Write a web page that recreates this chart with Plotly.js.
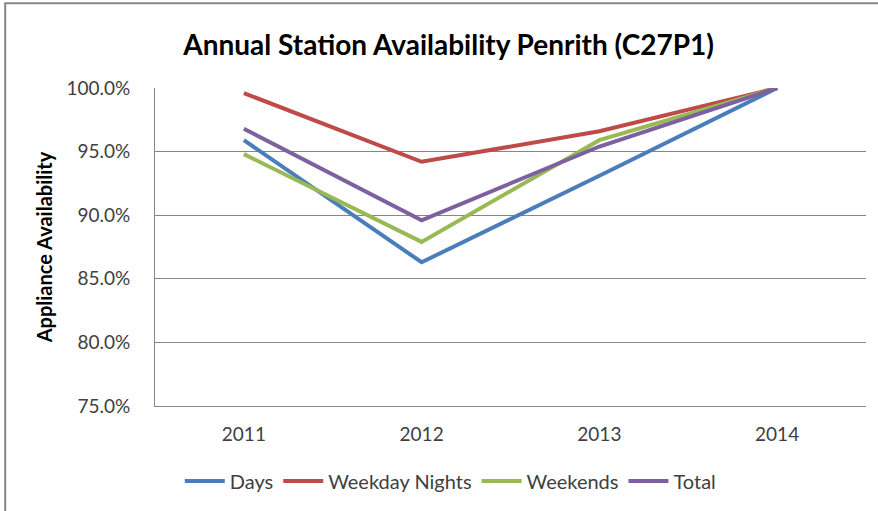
<!DOCTYPE html>
<html>
<head>
<meta charset="utf-8">
<script src="https://cdn.plot.ly/plotly-3.0.1.min.js"></script>
<style>html,body{margin:0;padding:0;background:#fff;}#chart{width:878px;height:511px;}</style>
</head>
<body>
<div id="chart"></div>
<script>
var years = ["2011", "2012", "2013", "2014"];
var days = [0.959, 0.863, 0.931, 1.000];
var weekdayNights = [0.996, 0.942, 0.966, 1.000];
var weekends = [0.948, 0.879, 0.959, 1.000];
var total = [0.968, 0.896, 0.954, 1.000];
var yTicks = [0.75, 0.80, 0.85, 0.90, 0.95, 1.00];
var yTickText = ["75.0%", "80.0%", "85.0%", "90.0%", "95.0%", "100.0%"];

var FONT = "Lato, 'Open Sans', sans-serif";
function series(name, vals, color) {
  return {x: years, y: vals, name: name, type: "scatter", mode: "lines",
          line: {color: color, width: 4}, hoverinfo: "x+y+name"};
}
var data = [
  series("Days", days, "#4a7ebb"),
  series("Weekday Nights", weekdayNights, "#be4b48"),
  series("Weekends", weekends, "#98b954"),
  series("Total", total, "#7d60a0")
];
var layout = {
  width: 878, height: 511,
  margin: {l: 155, r: 12, t: 88, b: 104},
  paper_bgcolor: "#fff", plot_bgcolor: "#fff",
  font: {family: FONT, color: "#404040", size: 19},
  title: {text: "<b>Annual Station Availability Penrith (C27P1)</b>", font: {family: FONT, size: 28, color: "#000"},
          x: 0.511, xanchor: "center", xref: "container", y: 0.912, yanchor: "middle", yref: "container"},
  xaxis: {type: "category", range: [-0.5, 3.5], showgrid: false, zeroline: false,
          showline: true, linecolor: "#868686", linewidth: 1, mirror: false,
          ticks: "", ticklabelstandoff: 11, tickfont: {size: 19, color: "#404040"}, fixedrange: true},
  yaxis: {range: [0.75, 1.0], tickvals: yTicks, ticktext: yTickText, showgrid: true, gridcolor: "#868686", gridwidth: 1,
          zeroline: false, showline: true, linecolor: "#868686", linewidth: 1, ticks: "", ticklabelstandoff: 20,
          tickfont: {size: 19, color: "#404040"},
          title: {text: "<b>Appliance Availability</b>", font: {size: 20, color: "#000"}, standoff: 8}, fixedrange: true},
  showlegend: true,
  legend: {orientation: "h", x: 0.416, xanchor: "center", y: -0.232, yanchor: "middle",
           font: {size: 20, color: "#404040"}, itemwidth: 40, tracegroupgap: 0},
  shapes: [{type: "rect", xref: "paper", yref: "paper", x0: -0.2107, x1: 1.2, y0: -0.5, y1: 1.2665,
            line: {color: "#868686", width: 2}, fillcolor: "rgba(0,0,0,0)", layer: "below"}]
};
Plotly.newPlot("chart", data, layout, {displayModeBar: false, staticPlot: true});
</script>
</body>
</html>
